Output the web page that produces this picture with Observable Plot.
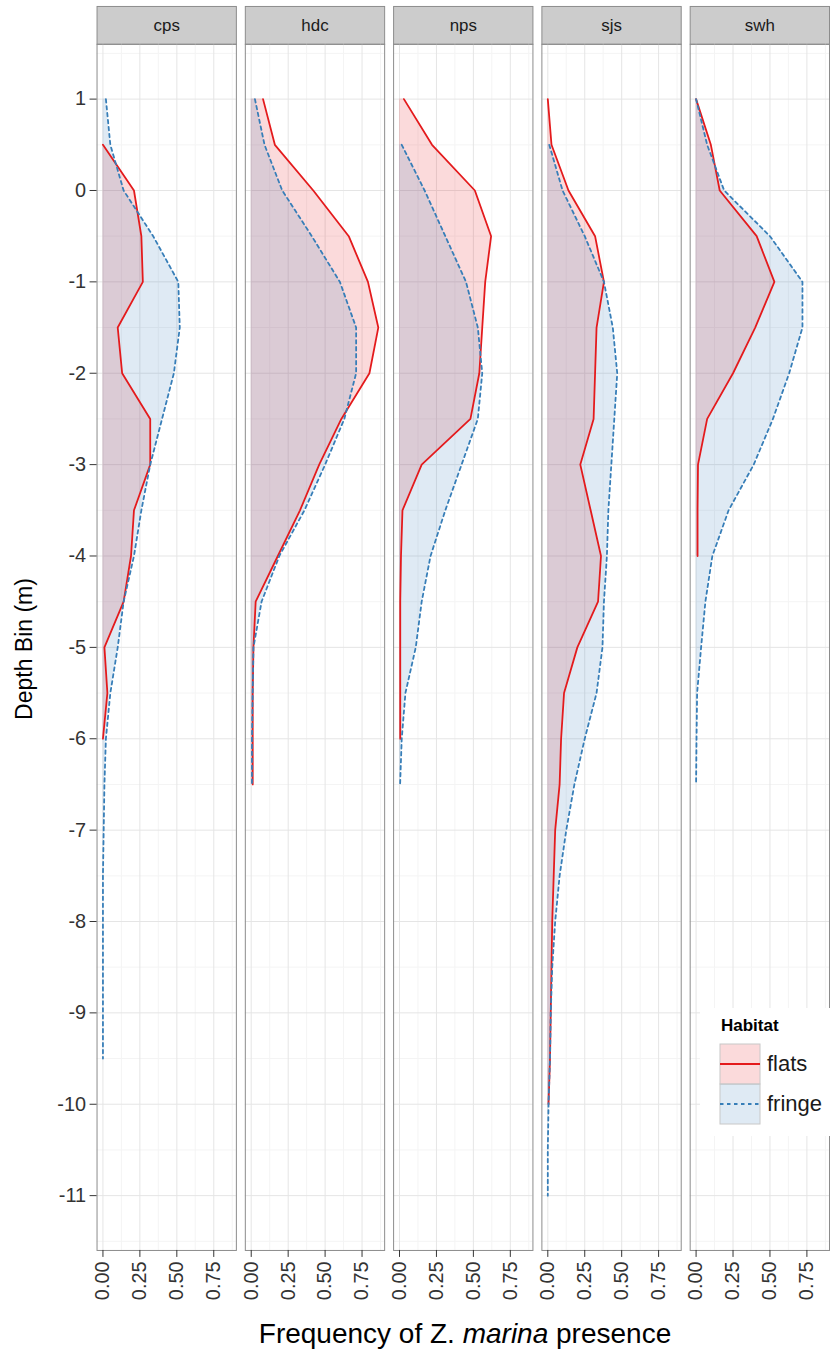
<!DOCTYPE html>
<html><head><meta charset="utf-8">
<script src="https://cdn.jsdelivr.net/npm/d3@7"></script>
<script src="https://cdn.jsdelivr.net/npm/@observablehq/plot@0.6"></script>
<style>
body{margin:0;background:#fff;font-family:"Liberation Sans",Arial,sans-serif;}
#wrap{position:relative;width:830px;height:1358px;overflow:hidden;background:#fff}
#xlab{position:absolute;left:96px;width:738px;top:1318px;text-align:center;font-size:28px;color:#000;line-height:32px}
#ylab{position:absolute;left:14px;top:649px;width:0;height:0}
#ylab span{position:absolute;transform:translate(-50%,-50%) rotate(-90deg);white-space:nowrap;font-size:23px;color:#000;left:10px;top:0}
#legend{position:absolute;left:700px;top:1008px;width:130px;height:128px;background:#fff;font-size:17px}
</style></head><body>
<div id="wrap"><div id="chart"></div>
<div id="ylab"><span>Depth Bin (m)</span></div>
<div id="xlab">Frequency of Z. <i>marina</i> presence</div>
<div id="legend"></div></div>
<script>
const sites = ["cps", "hdc", "nps", "sjs", "swh"];
const habitats = ["flats", "fringe"];
const habitatColors = ["#E41A1C", "#377EB8"];
const depthBins = [1, 0.5, 0, -0.5, -1, -1.5, -2, -2.5, -3, -3.5, -4, -4.5, -5, -5.5, -6, -6.5, -7, -7.5, -8, -8.5, -9, -9.5, -10, -10.5, -11];
const yTicks = [1, 0, -1, -2, -3, -4, -5, -6, -7, -8, -9, -10, -11];
const yMinor = [1.5, 0.5, -0.5, -1.5, -2.5, -3.5, -4.5, -5.5, -6.5, -7.5, -8.5, -9.5, -10.5, -11.5];
const xTicks = [0, 0.25, 0.5, 0.75];
const xMinor = [0.125, 0.375, 0.625, 0.875];

// values listed from the top depth bin downward (0.5 m steps)
const cpsFlatsTop = 0.5;
const cpsFlats = [0.00, 0.21, 0.26, 0.27, 0.10, 0.13, 0.32, 0.32, 0.21, 0.19, 0.14, 0.01, 0.03, 0.00];
const cpsFringeTop = 1;
const cpsFringe = [0.02, 0.05, 0.14, 0.34, 0.51, 0.52, 0.48, 0.40, 0.32, 0.26, 0.21, 0.14, 0.10, 0.05, 0.02, 0.01, 0.005, 0, 0, 0, 0, 0];
const hdcFlatsTop = 1;
const hdcFlats = [0.08, 0.16, 0.42, 0.66, 0.79, 0.86, 0.80, 0.61, 0.46, 0.33, 0.18, 0.03, 0.015, 0.01, 0.01, 0.01];
const hdcFringeTop = 1;
const hdcFringe = [0.025, 0.09, 0.21, 0.41, 0.60, 0.71, 0.71, 0.63, 0.50, 0.36, 0.19, 0.07, 0.015, 0.01, 0.005, 0.005];
const npsFlatsTop = 1;
const npsFlats = [0.03, 0.22, 0.51, 0.62, 0.58, 0.56, 0.54, 0.48, 0.15, 0.02, 0.01, 0.005, 0.005, 0.005, 0.005];
const npsFringeTop = 0.5;
const npsFringe = [0.015, 0.17, 0.31, 0.45, 0.53, 0.56, 0.53, 0.42, 0.31, 0.21, 0.15, 0.11, 0.04, 0.015, 0.004];
const sjsFlatsTop = 1;
const sjsFlats = [0, 0.025, 0.14, 0.32, 0.38, 0.33, 0.32, 0.31, 0.22, 0.29, 0.36, 0.34, 0.20, 0.11, 0.09, 0.08, 0.05, 0.04, 0.03, 0.025, 0.02, 0.015, 0.005];
const sjsFringeTop = 0.5;
const sjsFringe = [0.01, 0.10, 0.25, 0.38, 0.44, 0.47, 0.45, 0.43, 0.41, 0.40, 0.38, 0.37, 0.33, 0.25, 0.18, 0.125, 0.08, 0.05, 0.03, 0.02, 0.015, 0.005, 0, 0];
const swhFlatsTop = 1;
const swhFlats = [0, 0.10, 0.16, 0.41, 0.53, 0.40, 0.25, 0.075, 0.013, 0.01, 0.01];
const swhFringeTop = 1;
const swhFringe = [0, 0.075, 0.19, 0.50, 0.72, 0.72, 0.63, 0.52, 0.39, 0.22, 0.11, 0.063, 0.034, 0.007, 0.003, 0];

const seriesList = [
  ["cps", "flats", cpsFlatsTop, cpsFlats], ["cps", "fringe", cpsFringeTop, cpsFringe],
  ["hdc", "flats", hdcFlatsTop, hdcFlats], ["hdc", "fringe", hdcFringeTop, hdcFringe],
  ["nps", "flats", npsFlatsTop, npsFlats], ["nps", "fringe", npsFringeTop, npsFringe],
  ["sjs", "flats", sjsFlatsTop, sjsFlats], ["sjs", "fringe", sjsFringeTop, sjsFringe],
  ["swh", "flats", swhFlatsTop, swhFlats], ["swh", "fringe", swhFringeTop, swhFringe]
];
const data = seriesList.flatMap(([site, habitat, top, values]) => {
  const start = depthBins.indexOf(top);
  return values.map((v, i) => ({site, habitat, depth: depthBins[start + i], value: v}));
});
const flats = data.filter(d => d.habitat === "flats");
const fringe = data.filter(d => d.habitat === "fringe");

const chart = Plot.plot({
  width: 834, height: 1314,
  marginLeft: 96, marginRight: 0, marginTop: 44, marginBottom: 58,
  style: {fontFamily: "'Liberation Sans', Arial, sans-serif", background: "white"},
  x: {domain: [-0.04, 0.903]},
  y: {domain: [-11.6, 1.6]},
  fx: {domain: sites, paddingInner: 0.06, paddingOuter: 0, axis: null, label: null},
  color: {domain: habitats, range: habitatColors},
  marks: [
    Plot.frame({fill: "#CCCCCC", stroke: "#8C8C8C", insetTop: -38, insetBottom: 1212}),
    Plot.text(sites, {fx: d => d, text: d => d, frameAnchor: "top", dy: -19, lineAnchor: "middle", fontSize: 17, fill: "#1A1A1A"}),
    Plot.gridX(xMinor, {stroke: "#F4F4F4", strokeOpacity: 1, strokeWidth: 1}),
    Plot.gridY(yMinor, {stroke: "#F4F4F4", strokeOpacity: 1, strokeWidth: 1}),
    Plot.gridX(xTicks, {stroke: "#E5E5E5", strokeOpacity: 1, strokeWidth: 1}),
    Plot.gridY(yTicks, {stroke: "#E5E5E5", strokeOpacity: 1, strokeWidth: 1}),
    Plot.areaX(data, {fx: "site", y: "depth", x1: 0, x2: "value", fill: "habitat", fillOpacity: 0.16, z: "habitat"}),
    Plot.line(flats, {fx: "site", x: "value", y: "depth", stroke: habitatColors[0], strokeWidth: 1.8}),
    Plot.line(fringe, {fx: "site", x: "value", y: "depth", stroke: habitatColors[1], strokeWidth: 1.8, strokeDasharray: "3.5,3.5"}),
    Plot.frame({stroke: "#8C8C8C"}),
    Plot.axisY(yTicks, {tickFormat: d => String(d), tickSize: 7, tickPadding: 4, fontSize: 20, color: "#333", stroke: "#333", label: null}),
    Plot.axisX(xTicks, {tickFormat: d3.format(".2f"), tickSize: 7, tickPadding: 4, tickRotate: -90, fontSize: 20, color: "#333", stroke: "#333", label: null})
  ]
});
document.getElementById("chart").appendChild(chart);

// legend
const lg = d3.select("#legend");
lg.append("div").style("position", "absolute").style("left", "21px").style("top", "8px")
  .style("font-weight", "bold").style("font-size", "17px").text("Habitat");
const ls = lg.append("svg").attr("width", 130).attr("height", 128).style("position", "absolute").style("left", 0).style("top", 0);
habitats.forEach((h, i) => {
  const y0 = 36 + i * 40;
  ls.append("rect").attr("x", 20).attr("y", y0).attr("width", 40).attr("height", 40)
    .attr("fill", habitatColors[i]).attr("fill-opacity", 0.16).attr("stroke", "#C8C8C8");
  ls.append("line").attr("x1", 20).attr("x2", 60).attr("y1", y0 + 20).attr("y2", y0 + 20)
    .attr("stroke", habitatColors[i]).attr("stroke-width", 1.8)
    .attr("stroke-dasharray", i === 1 ? "3.5,3.5" : null);
  ls.append("text").attr("x", 67).attr("y", y0 + 27).attr("font-size", 22).attr("fill", "#1A1A1A")
    .attr("font-family", "'Liberation Sans', Arial, sans-serif").text(h);
});
</script></body></html>
